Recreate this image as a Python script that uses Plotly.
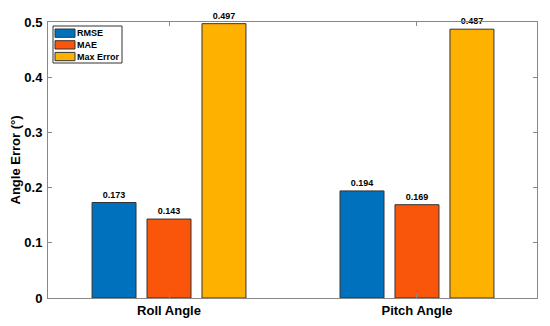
import plotly.graph_objects as go

categories = ["Roll Angle", "Pitch Angle"]
rmse = [0.173, 0.194]
mae = [0.143, 0.169]
max_err = [0.497, 0.487]
series_names = ["RMSE", "MAE", "Max Error"]
colors = ["#0072BD", "#F9560B", "#FFB100"]
y_ticks = [0, 0.1, 0.2, 0.3, 0.4, 0.5]
y_labels = ["0", "0.1", "0.2", "0.3", "0.4", "0.5"]

# page has an 8px body margin; size the figure so the plot area lands at
# page x 48..537, y 22..298
OFF = 8
W, H = 550 - OFF, 326 - OFF
ML, MR, MT, MB = 40, 13, 14, 28
PW, PH = W - ML - MR, H - MT - MB
X0, Y1 = OFF + ML, OFF + MT + PH  # page coords of plot left / bottom


def px(x):
    return (x - X0) / PW


def py(y):
    return (Y1 - y) / PH


xpos = [1, 2]
fig = go.Figure()
for name, vals, c in zip(series_names, [rmse, mae, max_err], colors):
    fig.add_trace(go.Bar(
        x=xpos, y=vals, name=name,
        marker=dict(color=c, line=dict(color="#333333", width=1)),
        text=[f"{v:.3f}" for v in vals], textposition="outside",
        textfont=dict(family="Arial", size=9, color="black", weight="bold"),
        cliponaxis=False, showlegend=False,
    ))

# custom compact legend
shapes = [dict(type="rect", xref="paper", yref="paper",
               x0=px(53), x1=px(122), y0=py(63), y1=py(26),
               line=dict(color="#333333", width=1), fillcolor="white")]
annotations = []
for i, (name, c) in enumerate(zip(series_names, colors)):
    top = 29 + i * 11.7
    shapes.append(dict(type="rect", xref="paper", yref="paper",
                       x0=px(55), x1=px(75), y0=py(top + 8.3), y1=py(top),
                       line=dict(color="#333333", width=1), fillcolor=c))
    annotations.append(dict(xref="paper", yref="paper", x=px(76), y=py(top + 4.2),
                            text=name, showarrow=False, xanchor="left", yanchor="middle",
                            borderpad=0,
                            font=dict(size=9, weight="bold", family="Arial")))

fig.update_layout(
    width=W, height=H,
    margin=dict(l=ML, r=MR, t=MT, b=MB, autoexpand=False),
    plot_bgcolor="white", paper_bgcolor="white",
    barmode="group", bargap=0.335, bargroupgap=0.2,
    font=dict(family="Arial", color="black"),
    showlegend=False,
    shapes=shapes, annotations=annotations,
)
fig.update_xaxes(
    range=[0.512, 2.484], tickvals=xpos, ticktext=categories,
    tickfont=dict(size=13, weight="bold"), automargin=False,
    showline=True, linecolor="#888888", linewidth=1, mirror="ticks",
    ticks="inside", ticklen=4, tickcolor="#888888", showgrid=False, zeroline=False,
)
fig.update_yaxes(
    range=[0, 0.5], tickvals=y_ticks, ticktext=y_labels, automargin=False,
    tickfont=dict(size=13, weight="bold"), ticklabelstandoff=2,
    title=dict(text="Angle Error (°)", font=dict(size=13, weight="bold"), standoff=4),
    showline=True, linecolor="#888888", linewidth=1, mirror="ticks",
    ticks="inside", ticklen=4, tickcolor="#888888", showgrid=False, zeroline=False,
)
fig.write_html("out.html")
